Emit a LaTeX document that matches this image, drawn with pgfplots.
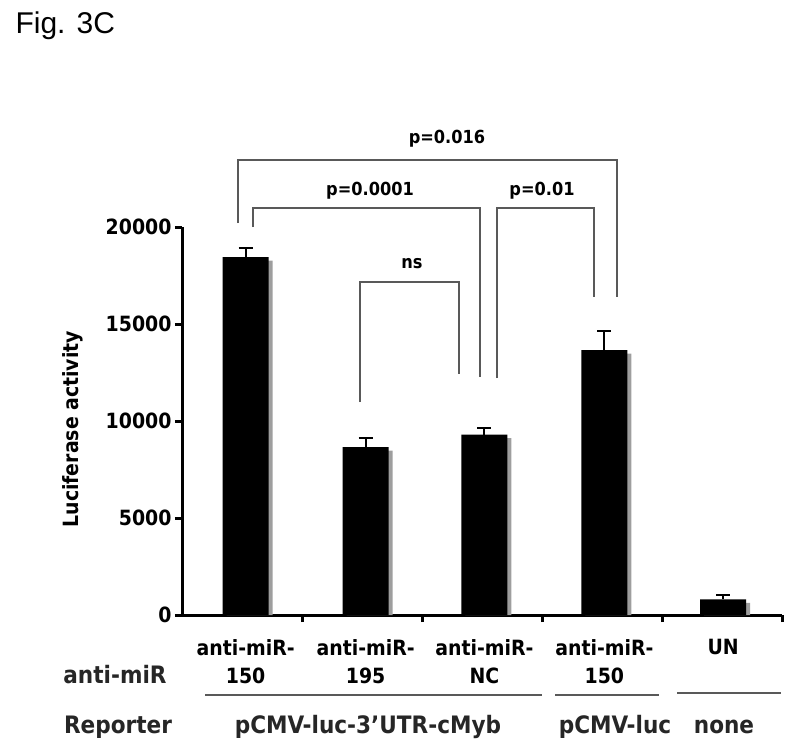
\documentclass[border=0pt]{standalone}
\usepackage{pgfplots}
\pgfplotsset{compat=1.18}
\usepackage{pgfplotstable}
\usepackage{fontspec}
\setmainfont{DejaVu Sans Condensed}
\newfontfamily\figfont{Liberation Sans}

% bar position, mean, upper error
\pgfplotstableread{
x y err
0.53 18450 470
1.53 8650 460
2.52 9300 340
3.52 13650 980
4.51 800 250
}\lucdata

\newcommand{\tickfont}{\fontsize{21}{28}\selectfont\bfseries}
\newcommand{\pfont}{\fontsize{18}{21}\selectfont\bfseries}
\newcommand{\rowfont}{\fontsize{24}{28}\selectfont\bfseries}

\begin{document}
\begin{tikzpicture}[x=1pt,y=1pt]
\useasboundingbox (0,0) rectangle (792,-750);
\begin{axis}[
 at={(182pt,-615pt)}, anchor=south west,
 scale only axis, width=600pt, height=388pt,
 xmin=0, xmax=5, ymin=0, ymax=20000,
 clip=false,
 axis lines*=left, axis line style={line width=3pt, black},
 ybar, bar width=46pt,
 xtick={1,2,3,4,5}, xticklabels={,,,,},
 ytick={0,5000,10000,15000,20000},
 tick style={line width=3pt, black}, major tick length=7pt, tick align=outside,
 extra x ticks={0.53,1.53,2.52,3.52,4.51},
 extra x tick labels={{anti-miR-\\150},{anti-miR-\\195},{anti-miR-\\NC},{anti-miR-\\150},{UN}},
 extra x tick style={major tick length=0pt, xticklabel style={align=center, font=\tickfont, yshift=-21pt}},
 yticklabel style={font=\tickfont},
 /pgf/number format/assume math mode=true,
 /pgf/number format/set thousands separator={},
 scaled y ticks=false,
 ylabel={Luciferase activity},
 ylabel style={font=\tickfont, at={(axis description cs:-0.182,0.479)}, anchor=center},
]
% grey drop shadow behind each bar
\addplot[bar shift=4pt, fill=black!38, draw=none] table[x=x, y expr=\thisrow{y}-180] {\lucdata};
\addplot[bar shift=0pt, fill=black, draw=none,
 error bars/.cd, y dir=plus, y explicit,
 error bar style={line width=2pt, black},
 error mark options={rotate=90, mark size=7pt, line width=2pt, black}]
 table[x=x, y=y, y error=err] {\lucdata};
\end{axis}

\node[anchor=base west, font=\figfont\fontsize{30}{36}\selectfont] at (12,-33) {Fig. 3C};

% significance brackets
\begin{scope}[line width=1.8pt, black!65]
\draw (238,-223) |- (617,-160) -- (617,-297);
\draw (253,-227) |- (480,-208) -- (480,-377);
\draw (497,-378) |- (594,-208) -- (594,-297);
\draw (360,-402) |- (459,-282) -- (459,-374);
\end{scope}
\node[anchor=base, font=\pfont] at (447,-143) {p=0.016};
\node[anchor=base, font=\pfont] at (370,-195) {p=0.0001};
\node[anchor=base, font=\pfont] at (542,-195) {p=0.01};
\node[anchor=base, font=\pfont] at (412,-268) {ns};

% row labels under the axis
\node[font=\rowfont, text=black!85] at (115,-675) {anti-miR};
\node[font=\rowfont, text=black!85] at (118,-727) {Reporter};
\begin{scope}[line width=2pt, black!65]
\draw (205,-695) -- (542,-695);
\draw (555,-695) -- (659,-695);
\draw (677,-693) -- (781,-693);
\end{scope}
\node[font=\rowfont, text=black!85] at (368,-727) {pCMV-luc-3’UTR-cMyb};
\node[font=\rowfont, text=black!85] at (615,-727) {pCMV-luc};
\node[font=\rowfont, text=black!85] at (724,-727) {none};
\end{tikzpicture}
\end{document}
